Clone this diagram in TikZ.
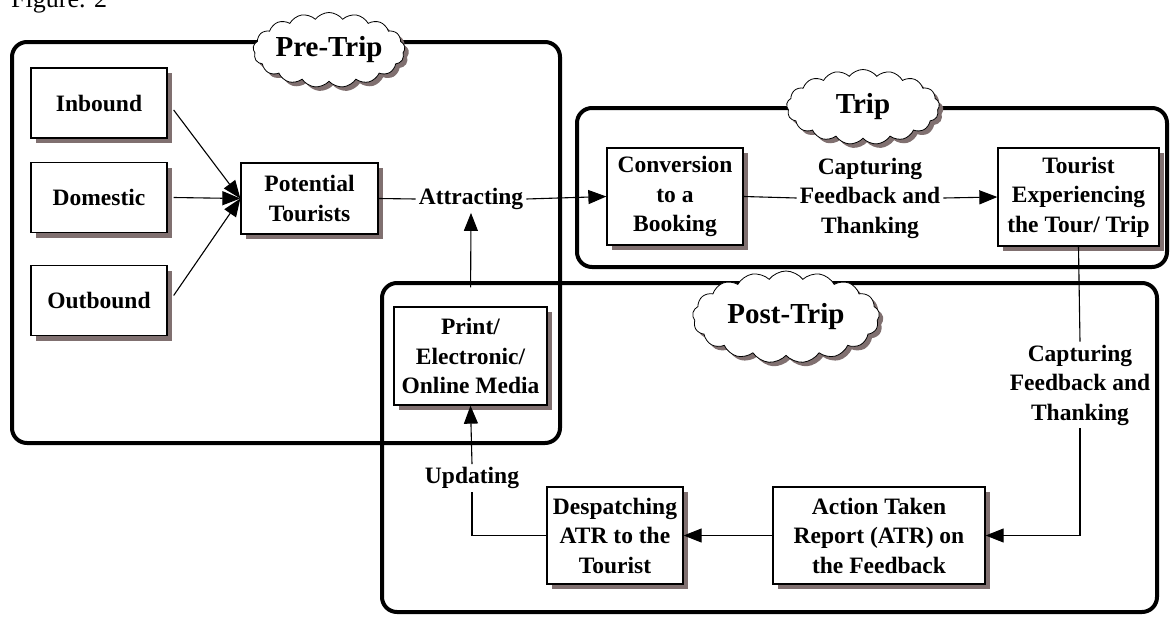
\documentclass[tikz,border=0pt]{standalone}
\usepackage{fontspec}
\setmainfont{Liberation Serif}
\usetikzlibrary{positioning}
\usetikzlibrary{arrows.meta}
\usetikzlibrary{shapes.symbols}
\usetikzlibrary{shadows}
\definecolor{shadowgray}{RGB}{128,112,112}

\begin{document}
\begin{tikzpicture}[x=1pt,y=-1pt,
  stage/.style={draw, line width=4pt, rounded corners=15pt},
  blob/.style={cloud, cloud puffs=17, cloud puff arc=105, cloud ignores aspect, draw, line width=0.8pt, fill=white, inner sep=0pt, font=\bfseries\fontsize{29}{33}\selectfont, drop shadow={shadow xshift=4pt, shadow yshift=-4pt, fill=shadowgray, opacity=1}},
  box/.style={draw, line width=1.3pt, fill=white, align=center, inner sep=0pt, font=\bfseries\fontsize{23.5}{29.5}\selectfont, drop shadow={shadow xshift=5pt, shadow yshift=-5pt, fill=shadowgray, opacity=1}},
  lbl/.style={align=center, inner sep=3pt, font=\bfseries\fontsize{23.5}{29.5}\selectfont},
  arr/.style={line width=1.1pt, -{Triangle[length=18pt,width=14pt]}},
  ln/.style={line width=1.1pt}]

\useasboundingbox (0,0) rectangle (1170,616);

\node[anchor=base west, inner sep=0pt, font=\fontsize{26}{30}\selectfont] (fig) at (11,7) {Figure. 2};

% stages
\draw[stage] (12,42) rectangle (560,443);
\draw[stage] (577,108) rectangle (1167,267);
\draw[stage] (382,283) rectangle (1157,612);

% clouds
{
\node[blob, minimum width=152pt, minimum height=75pt] (pre) at (329,50) {Pre-Trip};
\node[blob, minimum width=153pt, minimum height=75pt] (trip) at (863,107) {Trip};
\node[blob, minimum width=187pt, minimum height=92pt] (post) at (786,317) {Post-Trip};
}

% nodes
{
\node[box, minimum width=136pt, minimum height=70pt] (inb) at (99,103) {Inbound};
\node[box, minimum width=136pt, minimum height=70pt] (dom) at (99,197.5) {Domestic};
\node[box, minimum width=136pt, minimum height=70pt] (outb) at (99,300.5) {Outbound};
\node[box, minimum width=137pt, minimum height=71pt] (pot) at (309.5,198.5) {Potential\\Tourists};

\node[lbl] (att) at (471,199) {Attracting};
\node[box, minimum width=136pt, minimum height=97pt] (conv) at (675,196.5) {Conversion\\to a\\Booking};
\node[lbl] (cap1) at (870,198) {Capturing\\Feedback and\\Thanking};
\node[box, minimum width=161pt, minimum height=98pt] (tour) at (1078.5,197) {Tourist\\Experiencing\\the Tour/ Trip};

\node[lbl] (cap2) at (1080,385) {Capturing\\Feedback and\\Thanking};
\node[box, minimum width=212pt, minimum height=97pt] (atr) at (879,535.5) {Action Taken\\Report (ATR) on\\the Feedback};
\node[box, minimum width=136pt, minimum height=97pt] (desp) at (615,535.5) {Despatching\\ATR to the\\Tourist};
\node[lbl] (upd) at (472,478) {Updating};
\node[box, minimum width=153pt, minimum height=98pt] (prt) at (470.5,356) {Print/\\Electronic/\\Online Media};
}

% connectors
\draw[arr] ([xshift=6pt,yshift=-7pt]inb.east) -- (pot.west);
\draw[arr] ([xshift=6pt]dom.east) -- (pot.west);
\draw[arr] ([xshift=6pt,yshift=5pt]outb.east) -- (pot.west);

\draw[ln] (pot.east) -- (att.west);
\draw[arr] (att.east) -- (conv.west);
\draw[ln] (conv.east) -- (cap1.west);
\draw[arr] (cap1.east) -- (tour.west);

\draw[ln] (tour.south) -- (cap2.north);
\draw[arr] (cap2.south) |- (atr.east);
\draw[arr] (atr.west) -- (desp.east);
\draw[ln] (desp.west) -| (upd.south);
\draw[arr] (upd.north) -- (prt.south);
\draw[arr, shorten <=19pt] (prt.north) -- (att.south);

\end{tikzpicture}
\end{document}
